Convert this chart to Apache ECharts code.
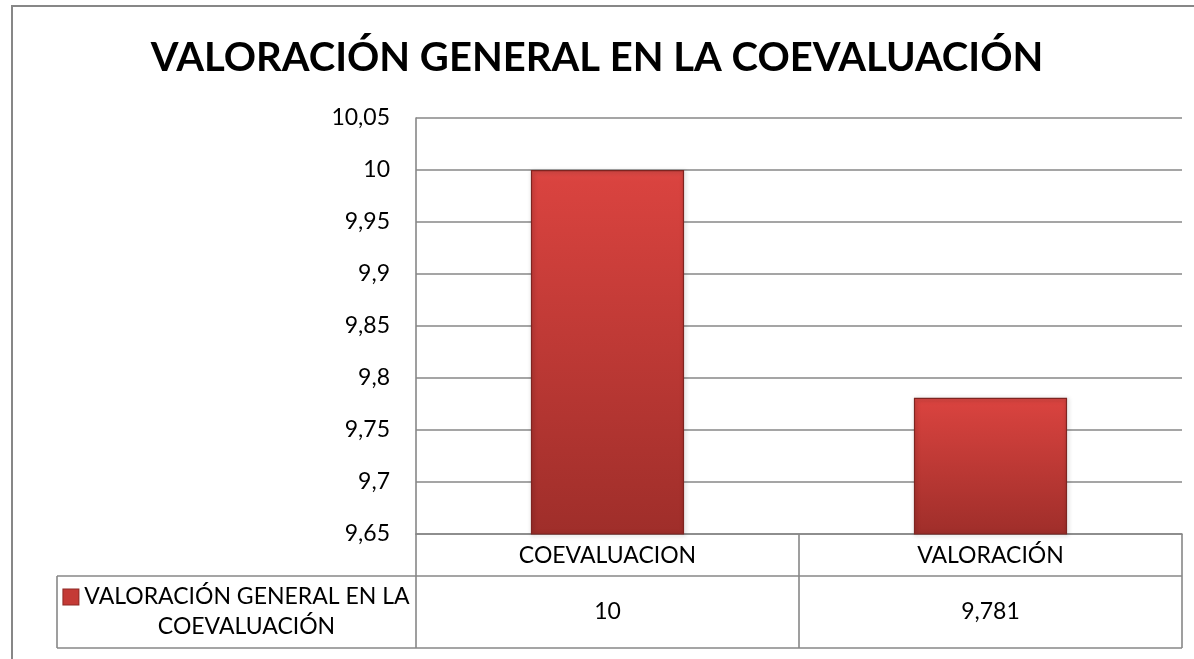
<!DOCTYPE html>
<html>
<head>
<meta charset="utf-8">
<script src="https://cdn.jsdelivr.net/npm/echarts@6/dist/echarts.min.js"></script>
<style>
html,body{margin:0;padding:0;background:#fff;}
#c{width:1194px;height:659px;}
</style>
</head>
<body>
<div id="c"></div>
<script>
const titleText = 'VALORACIÓN GENERAL EN LA COEVALUACIÓN';
const categories = ['COEVALUACION', 'VALORACIÓN'];
const seriesName = 'VALORACIÓN GENERAL EN LA COEVALUACIÓN';
const legendLines = ['VALORACIÓN GENERAL EN LA', 'COEVALUACIÓN'];
const values = [10, 9.781];
const valueLabels = ['10', '9,781'];
const yMin = 9.65, yMax = 10.05, yStep = 0.05;

const FONT = 'Lato, "Open Sans", sans-serif';
const LINE = '#878787';
const barGrad = new echarts.graphic.LinearGradient(0, 0, 0, 1, [
  {offset: 0, color: '#de4a46'},
  {offset: 0.03, color: '#d9433f'},
  {offset: 1, color: '#9f2e2a'}
]);

const chart = echarts.init(document.getElementById('c'), null, {renderer: 'canvas'});
const fmt = v => String(Number(v.toFixed(2))).replace('.', ',');

chart.setOption({
  animation: false,
  backgroundColor: '#fff',
  title: {
    text: titleText, left: 'center', top: 33,
    textStyle: {fontFamily: FONT, fontWeight: 'bold', fontSize: 40, color: '#000'}
  },
  grid: {left: 416, right: 12, top: 118, bottom: 125, containLabel: false},
  xAxis: {
    type: 'category', data: categories,
    axisLine: {show: true, lineStyle: {color: LINE, width: 1.6}},
    axisTick: {show: false},
    axisLabel: {fontFamily: FONT, fontSize: 23, color: '#000', margin: 10},
    splitLine: {show: false}
  },
  yAxis: {
    type: 'value', min: yMin, max: yMax, interval: yStep,
    axisLine: {show: true, lineStyle: {color: LINE, width: 1.6}},
    axisTick: {show: false},
    axisLabel: {fontFamily: FONT, fontSize: 23, color: '#000', margin: 26, formatter: fmt},
    splitLine: {show: true, lineStyle: {color: LINE, width: 1.6}}
  },
  series: [{
    type: 'bar', name: seriesName, data: values, barWidth: '40%',
    itemStyle: {
      color: barGrad, borderColor: '#7e2420', borderWidth: 1.2,
      shadowColor: 'rgba(0,0,0,0.35)', shadowBlur: 4, shadowOffsetX: 1, shadowOffsetY: 1
    }
  }]
});

// Build the data table under the plot from the grid geometry
const rect = chart.getModel().getComponent('grid').coordinateSystem.getRect();
const x0 = rect.x, x1 = rect.x + rect.width, yAx = rect.y + rect.height;
const row1 = yAx + 42, row2 = row1 + 72;
const legendLeft = 57;
const catW = rect.width / categories.length;
const g = [];
// outer chart border
g.push({type: 'rect', shape: {x: 12, y: 6, width: 1400, height: 900}, style: {fill: 'none', stroke: LINE, lineWidth: 2}, silent: true});
// horizontal table lines
g.push({type: 'line', shape: {x1: legendLeft, y1: row1, x2: x1, y2: row1}, style: {stroke: LINE, lineWidth: 1.6}});
g.push({type: 'line', shape: {x1: legendLeft, y1: row2, x2: x1, y2: row2}, style: {stroke: LINE, lineWidth: 1.6}});
// vertical lines
g.push({type: 'line', shape: {x1: legendLeft, y1: row1, x2: legendLeft, y2: row2}, style: {stroke: LINE, lineWidth: 1.6}});
for (let i = 0; i <= categories.length; i++) {
  const xx = x0 + catW * i;
  g.push({type: 'line', shape: {x1: xx, y1: yAx, x2: xx, y2: row2}, style: {stroke: LINE, lineWidth: 1.6}});
}
// values row
values.forEach((v, i) => {
  const cx = chart.convertToPixel({xAxisIndex: 0}, categories[i]);
  g.push({type: 'text', x: cx, y: (row1 + row2) / 2,
    style: {text: valueLabels[i], fill: '#000', font: '23px ' + FONT, textAlign: 'center', textVerticalAlign: 'middle'}});
});
// legend cell (two lines, icon before the first)
const lcx = (legendLeft + x0) / 2;
g.push({type: 'text', x: lcx, y: row1 + 21,
  style: {
    text: '{i|}' + ' ' + legendLines[0],
    fill: '#000', fontFamily: FONT, fontSize: 23,
    align: 'center', verticalAlign: 'middle',
    rich: {i: {width: 15, height: 15, backgroundColor: '#c43a36', borderColor: '#8e2925', borderWidth: 1}}
  }});
g.push({type: 'text', x: lcx + 10, y: row1 + 51,
  style: {
    text: legendLines[1], fill: '#000', fontFamily: FONT, fontSize: 23,
    align: 'center', verticalAlign: 'middle'
  }});
chart.setOption({graphic: {elements: g}});
</script>
</body>
</html>
